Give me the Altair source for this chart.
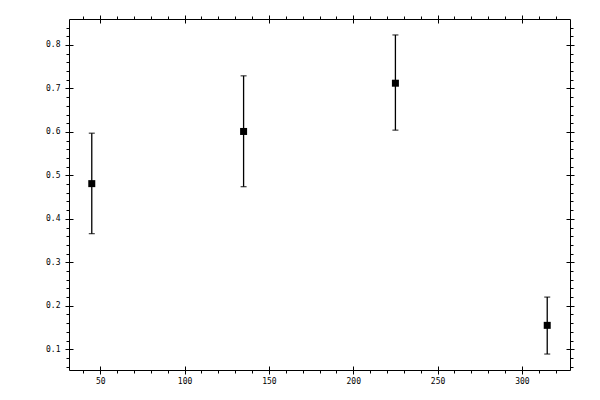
import altair as alt
import pandas as pd

# data
xs = [45, 135, 225, 315]
ys = [0.481, 0.601, 0.712, 0.155]
lows = [0.366, 0.474, 0.604, 0.089]
highs = [0.597, 0.729, 0.823, 0.220]

x_major = [50, 100, 150, 200, 250, 300]
x_minor = [40, 60, 70, 80, 90, 110, 120, 130, 140, 160, 170, 180, 190,
           210, 220, 230, 240, 260, 270, 280, 290, 310, 320]
y_major = [0.1, 0.2, 0.3, 0.4, 0.5, 0.6, 0.7, 0.8]
y_minor = [0.06, 0.08, 0.12, 0.14, 0.16, 0.18, 0.22, 0.24, 0.26, 0.28,
           0.32, 0.34, 0.36, 0.38, 0.42, 0.44, 0.46, 0.48, 0.52, 0.54,
           0.56, 0.58, 0.62, 0.64, 0.66, 0.68, 0.72, 0.74, 0.76, 0.78,
           0.82, 0.84]

df = pd.DataFrame({"x": xs, "y": ys, "lo": lows, "hi": highs})

# 5% padding around data extents
xr = max(xs) - min(xs)
x_dom = [min(xs) - 0.05 * xr, max(xs) + 0.05 * xr]
yr = max(highs) - min(lows)
y_dom = [min(lows) - 0.05 * yr, max(highs) + 0.05 * yr]

xs_scale = alt.Scale(domain=x_dom, nice=False, zero=False)
ys_scale = alt.Scale(domain=y_dom, nice=False, zero=False)


def ax(orient, values, size, offset=0, labels=False, fmt=None, pad=3, domain=False):
    kw = dict(orient=orient, values=values, tickSize=size, offset=offset,
              labels=labels, domain=domain, grid=False, title=None,
              ticks=True, tickColor="black", tickWidth=1,
              labelFlush=False, labelOverlap=False)
    if domain:
        kw.update(domainColor="black", domainWidth=1)
    if labels:
        kw.update(format=fmt, labelPadding=pad, labelColor="black",
                  labelFont="DejaVu Sans Mono", labelFontSize=8)
    return alt.Axis(**kw)


base = alt.Chart(df)

rules = base.mark_rule(color="black", strokeWidth=1.3).encode(
    x=alt.X("x:Q", scale=xs_scale,
            axis=ax("bottom", x_major, 4, labels=True, fmt="d", pad=3, domain=True)),
    y=alt.Y("lo:Q", scale=ys_scale,
            axis=ax("left", y_major, 4, labels=True, fmt=".1f", pad=5, domain=True)),
    y2="hi:Q",
)

cap_lo = base.mark_tick(color="black", orient="horizontal", size=6, thickness=1.3).encode(
    x=alt.X("x:Q", scale=xs_scale, axis=ax("bottom", x_major, 4, offset=-4)),
    y=alt.Y("lo:Q", scale=ys_scale, axis=ax("left", y_major, 4, offset=-4)),
)

cap_hi = base.mark_tick(color="black", orient="horizontal", size=6, thickness=1.3).encode(
    x=alt.X("x:Q", scale=xs_scale, axis=ax("bottom", x_minor, 3)),
    y=alt.Y("hi:Q", scale=ys_scale, axis=ax("left", y_minor, 3)),
)

points = base.mark_square(color="black", size=49, opacity=1, filled=True).encode(
    x=alt.X("x:Q", scale=xs_scale, axis=ax("top", x_major, 4, domain=True)),
    y=alt.Y("y:Q", scale=ys_scale, axis=ax("right", y_major, 4, domain=True)),
)

inv1 = base.mark_point(opacity=0).encode(
    x=alt.X("x:Q", scale=xs_scale, axis=ax("top", x_major, 4, offset=-4)),
    y=alt.Y("y:Q", scale=ys_scale, axis=ax("right", y_major, 4, offset=-4)),
)

inv2 = base.mark_point(opacity=0).encode(
    x=alt.X("x:Q", scale=xs_scale, axis=ax("top", x_minor, 3)),
    y=alt.Y("y:Q", scale=ys_scale, axis=ax("right", y_minor, 3)),
)

chart = (
    alt.layer(rules, cap_lo, cap_hi, points, inv1, inv2)
    .resolve_axis(x="independent", y="independent")
    .properties(
        width=501,
        height=351,
        autosize=alt.AutoSizeParams(type="none"),
        padding={"left": 61, "top": 11, "right": 22, "bottom": 22},
    )
    .configure_view(strokeWidth=0)
    .configure(background="white")
)

chart.save("out.html", embed_options={"renderer": "svg", "actions": False})
